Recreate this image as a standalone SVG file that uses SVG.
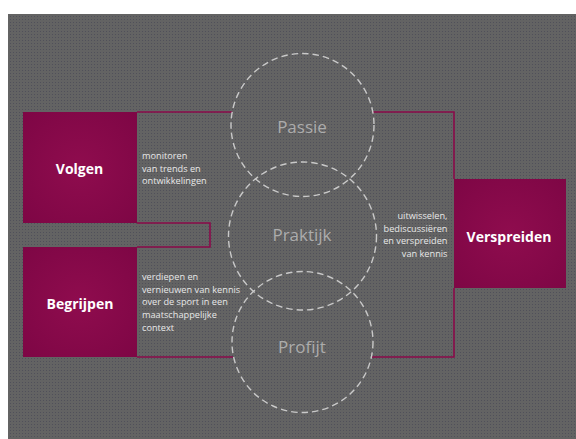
<svg xmlns="http://www.w3.org/2000/svg" width="576" height="439" viewBox="0 0 576 439">
  <defs>
    <pattern id="dots" x="0" y="0" width="3" height="3" patternUnits="userSpaceOnUse">
      <rect width="3" height="3" fill="#636363"/>
      <rect x="1" y="1" width="1" height="1" fill="#50505a"/>
    </pattern>
    <radialGradient id="mag" cx="0.5" cy="0.5" r="0.7">
      <stop offset="0" stop-color="#8f0c4e"/>
      <stop offset="1" stop-color="#7e0645"/>
    </radialGradient>
  </defs>
  <style>
    .box { fill: url(#mag); }
    .ttl { font-family: "Open Sans", "Noto Sans", sans-serif; font-weight: bold; font-size: 14px; fill: #ffffff; text-anchor: middle; }
    .desc { font-family: "Open Sans", "Noto Sans", sans-serif; font-size: 9.2px; fill: #e8e8e8; }
    .circ { fill: none; stroke: #c9c9c9; stroke-width: 1.4; stroke-dasharray: 6.5 4; }
    .clbl { font-family: "Open Sans", "Noto Sans", sans-serif; font-size: 17px; fill: #acacac; text-anchor: middle; }
    .edge { fill: none; stroke: #8a0a4a; stroke-width: 1.6; }
  </style>
  <rect x="0" y="0" width="576" height="439" fill="#ffffff"/>
  <rect x="8" y="14" width="568" height="425" fill="url(#dots)"/>

  <g id="connectors">
    <path class="edge" d="M137 112 H232.2"/>
    <path class="edge" d="M372.8 112 H454 V179"/>
    <path class="edge" d="M454 288 V357 H372"/>
    <path class="edge" d="M137 357 H233"/>
    <path class="edge" d="M137 223 H210 V247 H137"/>
  </g>

  <g id="volgen">
    <rect class="box" x="23" y="112" width="114" height="111"/>
    <text class="ttl" x="79.5" y="173.5">Volgen</text>
    <text class="desc" x="142" y="159">monitoren</text>
    <text class="desc" x="142" y="171.5">van trends en</text>
    <text class="desc" x="142" y="184">ontwikkelingen</text>
  </g>

  <g id="begrijpen">
    <rect class="box" x="23" y="247" width="114" height="110"/>
    <text class="ttl" x="80" y="309">Begrijpen</text>
    <text class="desc" x="142" y="280">verdiepen en</text>
    <text class="desc" x="142" y="292.7">vernieuwen van kennis</text>
    <text class="desc" x="142" y="305.4">over de sport in een</text>
    <text class="desc" x="142" y="318.1">maatschappelijke</text>
    <text class="desc" x="142" y="330.8">context</text>
  </g>

  <g id="verspreiden">
    <rect class="box" x="454" y="179" width="112" height="109"/>
    <text class="ttl" x="509" y="241.5">Verspreiden</text>
    <text class="desc" x="447.5" y="219.3" text-anchor="end">uitwisselen,</text>
    <text class="desc" x="447.5" y="231.7" text-anchor="end">bediscussiëren</text>
    <text class="desc" x="447.5" y="244" text-anchor="end">en verspreiden</text>
    <text class="desc" x="447.5" y="256.7" text-anchor="end">van kennis</text>
  </g>

  <g id="passie">
    <circle class="circ" cx="302.5" cy="125" r="71.5"/>
    <text class="clbl" x="302" y="132.5">Passie</text>
  </g>

  <g id="praktijk">
    <circle class="circ" cx="302.5" cy="236" r="74"/>
    <text class="clbl" x="302" y="241">Praktijk</text>
  </g>

  <g id="profijt">
    <circle class="circ" cx="302.5" cy="342" r="70.5"/>
    <text class="clbl" x="302" y="353">Profijt</text>
  </g>
</svg>
